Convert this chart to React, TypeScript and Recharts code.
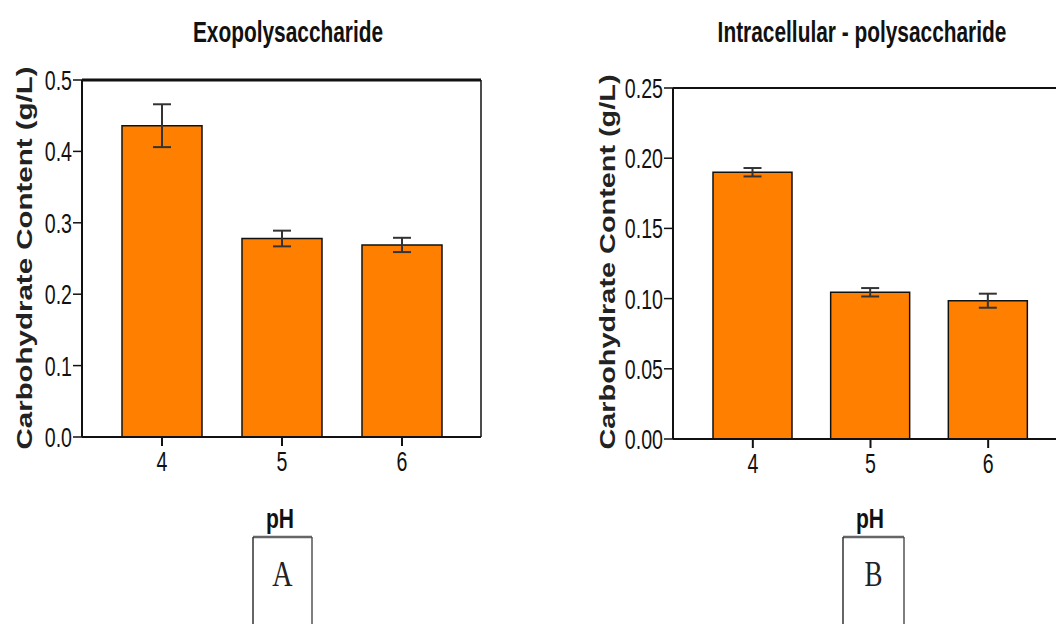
import { BarChart, Bar, XAxis, YAxis, ErrorBar, Label } from 'recharts';

// pH levels tested, shared by both panels
const phLevels = ['4', '5', '6'];

// Panel A – exopolysaccharide (g/L)
const exoMeans = [0.436, 0.278, 0.269];
const exoErrors = [0.03, 0.011, 0.01];
const exoTicks = [0, 0.1, 0.2, 0.3, 0.4, 0.5];

// Panel B – intracellular polysaccharide (g/L)
const intraMeans = [0.19, 0.1045, 0.0985];
const intraErrors = [0.003, 0.003, 0.005];
const intraTicks = [0, 0.05, 0.1, 0.15, 0.2, 0.25];

const FONT = '"Liberation Sans", Arial, sans-serif';
const SERIF = '"Liberation Serif", "Times New Roman", serif';
const ORANGE = '#FF8000';
const SX = 0.7; // the figure is squeezed sideways, so text is narrowed

const toRows = (means: number[], errs: number[]) =>
  phLevels.map((ph, i) => ({ ph, value: means[i], err: errs[i] }));

// y tick: narrow, tall digits
function YTick({ x, y, payload, digits }: any) {
  return (
    <g transform={`translate(${x},${y}) scale(${SX},1)`}>
      <text x={0} y={0} dy="0.36em" textAnchor="end" fontSize={28} fill="#111" fontFamily={FONT}>
        {Number(payload.value).toFixed(digits)}
      </text>
    </g>
  );
}

function XTick({ x, y, payload }: any) {
  return (
    <g transform={`translate(${x},${y}) scale(${SX},1)`}>
      <text x={0} y={0} dy="0.72em" textAnchor="middle" fontSize={28} fill="#111" fontFamily={FONT}>
        {payload.value}
      </text>
    </g>
  );
}

interface PanelProps {
  title: string;
  titleX: number;
  means: number[];
  errs: number[];
  ticks: number[];
  digits: number;
  top: number;
  bottom: number;
  left: number;
  width: number;
  clipWidth: number;
  rightMargin: number;
  yAxisWidth: number;
  padLeft: number;
  padRight: number;
  barSize: number;
  topStroke: number;
  labelX: number;
  labelY: number;
  labelLen: number;
  showRight: boolean;
}

function Panel(p: PanelProps) {
  const data = toRows(p.means, p.errs);
  const height = 540;
  const max = p.ticks[p.ticks.length - 1];
  return (
    <div style={{ position: 'absolute', left: p.left, top: 0, width: p.clipWidth, height, overflow: 'hidden' }}>
      <BarChart
        width={p.width}
        height={height}
        data={data}
        margin={{ top: p.top - 1, right: p.showRight ? p.rightMargin - 1 : p.rightMargin, left: 0, bottom: 0 }}
      >
        <XAxis
          dataKey="ph"
          xAxisId="bottom"
          height={height - p.bottom}
          padding={{ left: p.padLeft, right: p.padRight }}
          axisLine={{ stroke: '#111', strokeWidth: 2 }}
          tickLine={{ stroke: '#111', strokeWidth: 2 }}
          tickSize={9}
          tickMargin={5}
          tick={<XTick />}
        >
          <Label
            content={() => (
              <text
                transform={`translate(280,518) scale(0.78,1)`}
                textAnchor="middle"
                dy="0.36em"
                fontSize={27}
                fontWeight="bold"
                fill="#111"
                fontFamily={FONT}
              >
                pH
              </text>
            )}
          />
        </XAxis>
        <XAxis
          dataKey="ph"
          xAxisId="top"
          orientation="top"
          height={1}
          tick={false}
          tickLine={false}
          axisLine={{ stroke: '#111', strokeWidth: p.topStroke }}
        >
          <Label
            content={() => (
              <text
                transform={`translate(${p.titleX},32) scale(0.72,1)`}
                textAnchor="middle"
                dy="0.36em"
                fontSize={29}
                fontWeight="bold"
                fill="#111"
                fontFamily={FONT}
              >
                {p.title}
              </text>
            )}
          />
        </XAxis>
        <YAxis
          yAxisId="left"
          width={p.yAxisWidth}
          domain={[0, max]}
          ticks={p.ticks}
          interval={0}
          axisLine={{ stroke: '#111', strokeWidth: 2 }}
          tickLine={{ stroke: '#111', strokeWidth: 1.5 }}
          tickSize={9}
          tickMargin={1}
          tick={<YTick digits={p.digits} />}
        >
          <Label
            content={() => (
              <text
                transform={`translate(${p.labelX},${p.labelY}) rotate(-90)`}
                textAnchor="middle"
                dy="0.36em"
                fontSize={22}
                fontWeight="bold"
                fill="#222"
                fontFamily={FONT}
                textLength={p.labelLen}
                lengthAdjust="spacingAndGlyphs"
              >
                Carbohydrate Content (g/L)
              </text>
            )}
          />
        </YAxis>
        {p.showRight && (
          <YAxis
            yAxisId="right"
            orientation="right"
            width={1}
            domain={[0, max]}
            tick={false}
            tickLine={false}
            axisLine={{ stroke: '#111', strokeWidth: 1.5 }}
          />
        )}
        <Bar
          dataKey="value"
          xAxisId="bottom"
          yAxisId="left"
          fill={ORANGE}
          stroke="#111"
          strokeWidth={1.5}
          barSize={p.barSize}
          isAnimationActive={false}
        >
          <ErrorBar dataKey="err" direction="y" width={9} stroke="#333" strokeWidth={2} isAnimationActive={false} />
        </Bar>
      </BarChart>
    </div>
  );
}

// the panel letter boxes under each chart
function LetterBox({ x, w, letter, sx }: { x: number; w: number; letter: string; sx: number }) {
  return (
    <g>
      <line x1={x} y1={537} x2={x + w} y2={537} stroke="#666" strokeWidth={2.5} />
      <line x1={x} y1={537} x2={x} y2={630} stroke="#333" strokeWidth={1.5} />
      <line x1={x + w} y1={537} x2={x + w} y2={630} stroke="#555" strokeWidth={1.5} />
      <text
        transform={`translate(${x + w / 2},573) scale(${sx},1)`}
        textAnchor="middle"
        dy="0.36em"
        fontSize={36}
        fill="#222"
        fontFamily={SERIF}
      >
        {letter}
      </text>
    </g>
  );
}

export default function App() {
  return (
    <div
      style={{
        position: 'fixed',
        left: 0,
        top: 0,
        width: 1056,
        height: 624,
        overflow: 'hidden',
        background: '#fff',
      }}
    >
      <Panel
        title="Exopolysaccharide"
        titleX={288}
        means={exoMeans}
        errs={exoErrors}
        ticks={exoTicks}
        digits={1}
        top={80}
        bottom={437}
        left={0}
        width={500}
        clipWidth={500}
        rightMargin={19}
        yAxisWidth={82}
        padLeft={20}
        padRight={19}
        barSize={80}
        topStroke={3}
        labelX={24}
        labelY={258}
        labelLen={383}
        showRight={true}
      />
      <Panel
        title="Intracellular - polysaccharide"
        titleX={272}
        means={intraMeans}
        errs={intraErrors}
        ticks={intraTicks}
        digits={2}
        top={88}
        bottom={439}
        left={590}
        width={610}
        clipWidth={466}
        rightMargin={20}
        yAxisWidth={83}
        padLeft={21}
        padRight={133}
        barSize={79}
        topStroke={2}
        labelX={17}
        labelY={262}
        labelLen={375}
        showRight={false}
      />
      <svg width={1056} height={624} style={{ position: 'absolute', left: 0, top: 0, pointerEvents: 'none' }}>
        <LetterBox x={253} w={59} letter="A" sx={0.78} />
        <LetterBox x={843} w={61} letter="B" sx={0.75} />
      </svg>
    </div>
  );
}
